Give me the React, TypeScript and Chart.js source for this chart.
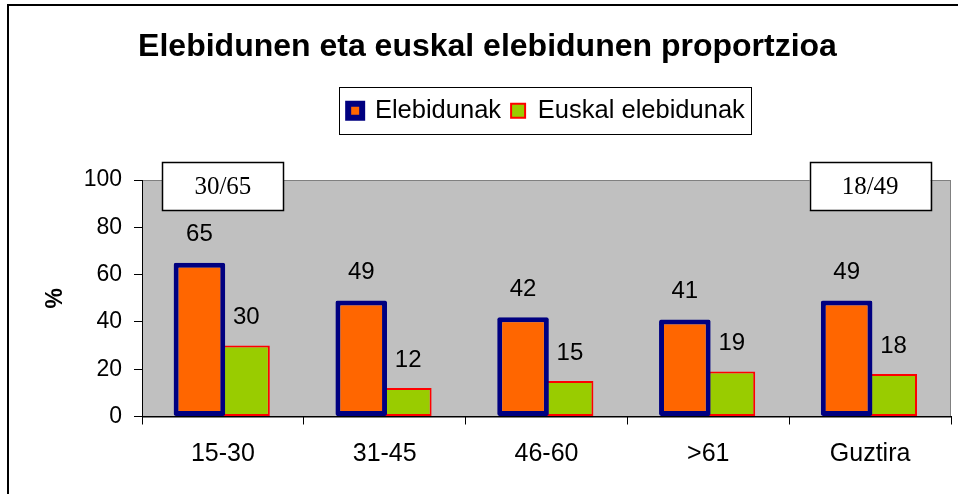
import React, { useEffect, useRef } from "react";
import { Chart, registerables } from "chart.js";

Chart.register(...registerables);

const chartTitle = "Elebidunen eta euskal elebidunen proportzioa";
const seriesNames = ["Elebidunak", "Euskal elebidunak"];
const categories = ["15-30", "31-45", "46-60", ">61", "Guztira"];
const elebidunak = [65, 49, 42, 41, 49];
const euskalElebidunak = [30, 12, 15, 19, 18];
const boxNotes = ["30/65", "", "", "", "18/49"];
const yMin = 0;
const yMax = 100;
const yStep = 20;
const yAxisTitle = "%";

const SANS = "'Liberation Sans', Arial, sans-serif";
const SERIF = "'Liberation Serif', 'Times New Roman', serif";

export default function App() {
  const ref = useRef<HTMLCanvasElement>(null);

  useEffect(() => {
    document.body.style.margin = "0";
    const canvas = ref.current;
    if (!canvas) return;

    const plotBg = {
      id: "plotBg",
      beforeDraw(chart: any) {
        const { ctx, chartArea: a } = chart;
        ctx.save();
        ctx.fillStyle = "#C0C0C0";
        ctx.fillRect(a.left, a.top, a.right - a.left, a.bottom - a.top);
        ctx.strokeStyle = "#808080";
        ctx.lineWidth = 1;
        ctx.strokeRect(Math.round(a.left) + 0.5, Math.round(a.top) + 0.5, Math.round(a.right - a.left) - 1, Math.round(a.bottom - a.top));
        ctx.restore();
      },
    };

    const valueLabels = {
      id: "valueLabels",
      afterDatasetsDraw(chart: any) {
        const { ctx } = chart;
        ctx.save();
        ctx.font = `24px ${SANS}`;
        ctx.fillStyle = "#000";
        ctx.textAlign = "center";
        ctx.textBaseline = "middle";
        chart.data.datasets.forEach((ds: any, di: number) => {
          const meta = chart.getDatasetMeta(di);
          meta.data.forEach((el: any, i: number) => {
            ctx.fillText(String(ds.data[i]), el.x, el.y - 28);
          });
        });
        ctx.restore();
      },
    };

    const decorations = {
      id: "decorations",
      afterDraw(chart: any) {
        const { ctx, scales } = chart;
        ctx.save();
        // legend frame
        const lg = chart.legend;
        if (lg && lg.legendHitBoxes && lg.legendHitBoxes.length) {
          const hb = lg.legendHitBoxes;
          const last = hb[hb.length - 1];
          const cy = lg.top + 10 + 13;
          const left = hb[0].left - 9;
          const right = last.left + last.width + 6;
          ctx.strokeStyle = "#000";
          ctx.lineWidth = 1;
          ctx.strokeRect(Math.round(left) + 0.5, Math.round(cy - 24) + 0.5, Math.round(right - left), 47);
        }
        // note boxes
        const x = scales.x;
        const y = scales.y;
        boxNotes.forEach((t, i) => {
          if (!t) return;
          const cx = x.getPixelForValue(i);
          const cyb = y.getPixelForValue(yMax) + 6;
          const w = 121;
          const h = 48;
          ctx.fillStyle = "#fff";
          ctx.fillRect(cx - w / 2, cyb - h / 2, w, h);
          ctx.strokeStyle = "#000";
          ctx.lineWidth = 1.5;
          ctx.strokeRect(Math.round(cx - w / 2) + 0.5, Math.round(cyb - h / 2) + 0.5, w, h);
          ctx.fillStyle = "#000";
          ctx.font = `25px ${SERIF}`;
          ctx.textAlign = "center";
          ctx.textBaseline = "middle";
          ctx.fillText(t, cx, cyb + 1);
        });
        // outer frame
        ctx.strokeStyle = "#000";
        ctx.lineWidth = 2;
        ctx.strokeRect(8, 5, chart.width, chart.height);
        ctx.restore();
      },
    };

    const chart = new Chart(canvas, {
      type: "bar",
      data: {
        labels: categories,
        datasets: [
          {
            label: seriesNames[0],
            data: elebidunak,
            backgroundColor: "#FF6600",
            borderColor: "#000080",
            borderWidth: 5,
            borderSkipped: false,
            borderRadius: 2,
            categoryPercentage: 0.58,
            barPercentage: 1.1,
          },
          {
            label: seriesNames[1],
            data: euskalElebidunak,
            backgroundColor: "#99CC00",
            borderColor: "#FF0000",
            borderWidth: 2,
            borderSkipped: false,
            categoryPercentage: 0.58,
            barPercentage: 1.0,
          },
        ],
      },
      options: {
        responsive: false,
        devicePixelRatio: 1,
        animation: false,
        layout: { padding: { left: 24, right: 7, top: 0, bottom: 0 } },
        plugins: {
          title: {
            display: true,
            text: chartTitle,
            color: "#000",
            font: { family: SANS, size: 32, weight: "bold" },
            padding: { top: 28, bottom: 21.6 },
          },
          subtitle: {
            display: true,
            text: "",
            weight: 500,
            font: { size: 10 },
            padding: { top: 34.5, bottom: 0 },
          },
          legend: {
            display: true,
            position: "top",
            fullSize: false,
            labels: {
              color: "#000",
              font: { family: SANS, size: 25.5 },
              boxWidth: 14,
              boxHeight: 14,
              padding: 10,
              generateLabels(c: any) {
                return c.data.datasets.map((ds: any, i: number) => ({
                  text: ds.label,
                  fillStyle: ds.backgroundColor,
                  strokeStyle: ds.borderColor,
                  lineWidth: i === 0 ? 6 : 2,
                  hidden: false,
                  datasetIndex: i,
                }));
              },
            },
          },
          tooltip: { enabled: false },
        },
        scales: {
          x: {
            grid: {
              display: true,
              drawOnChartArea: false,
              drawTicks: true,
              tickLength: 8,
              color: "#000",
              offset: true,
            },
            border: { display: true, color: "#000", width: 1 },
            ticks: {
              color: "#000",
              font: { family: SANS, size: 25 },
              padding: 15,
              maxRotation: 0,
              autoSkip: false,
            },
            afterFit(s: any) {
              s.height = 77.5;
            },
          },
          y: {
            min: yMin,
            max: yMax,
            grid: {
              display: true,
              drawOnChartArea: false,
              drawTicks: true,
              tickLength: 8,
              color: "#000",
            },
            border: { display: true, color: "#000", width: 1 },
            ticks: {
              stepSize: yStep,
              color: "#000",
              font: { family: SANS, size: 23 },
              padding: 12,
            },
            title: {
              display: true,
              text: yAxisTitle,
              color: "#000",
              font: { family: SANS, size: 23, weight: "bold" },
              padding: { top: 18, bottom: 0 },
            },
            afterFit(s: any) {
              s.width = 118;
            },
          },
        },
      },
      plugins: [plotBg, valueLabels, decorations],
    } as any);

    return () => chart.destroy();
  }, []);

  return <canvas ref={ref} width={958} height={494} style={{ display: "block" }} />;
}
